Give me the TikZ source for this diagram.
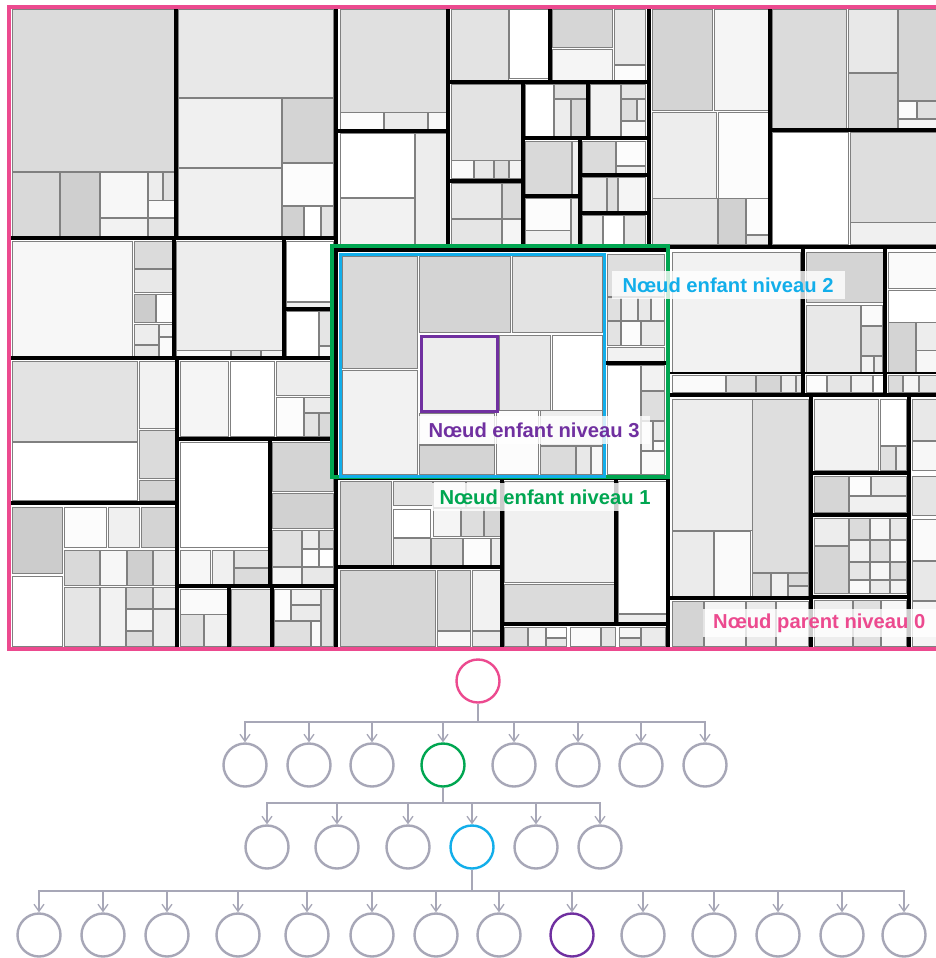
\documentclass[tikz,border=0pt]{standalone}
\usepackage{fontspec}
\newfontfamily\lblfont{Liberation Sans}
\usetikzlibrary{arrows.meta}
\definecolor{pinkc}{HTML}{EC4A8F}
\definecolor{greenc}{HTML}{00A651}
\definecolor{bluec}{HTML}{12AEEA}
\definecolor{purpc}{HTML}{7030A0}
\definecolor{treeg}{HTML}{A7A7B7}
\tikzset{
  tmcell/.style={draw=black!50,line width=1pt},
  thkline/.style={draw=black,line width=3.3pt},
  lblbox/.style={fill=white,fill opacity=0.8,text opacity=1,inner xsep=8pt,minimum height=28pt,font=\lblfont\bfseries\fontsize{20.2}{22}\selectfont},
  tnode/.style={circle,draw=treeg,line width=2.4pt,minimum size=43pt,inner sep=0pt},
  tconn/.style={draw=treeg,line width=1.5pt,-{Straight Barb[length=7pt,width=10pt,line width=1.3pt]}},
  tstem/.style={draw=treeg,line width=1.5pt}
}
\newcommand{\tmc}[5]{\filldraw[tmcell,fill=black!#5] (#1,#2) rectangle (#3,#4);}
\newcommand{\thk}[4]{\draw[thkline] (#1,#2) -- (#3,#4);}
\begin{document}
\begin{tikzpicture}[x=1pt,y=-1pt]
\useasboundingbox (0,0) rectangle (936,958);
\fill[white] (0,0) rectangle (936,958);
% ---------- treemap cells ----------
% region A
\tmc{12}{10}{175}{171}{14}
\tmc{12}{172}{59}{236}{15}
\tmc{60}{172}{99}{236}{19}
\tmc{100}{172}{147}{217}{3}
\tmc{100}{218}{147}{236}{5}
\tmc{148}{172}{162}{200}{7}
\tmc{163}{172}{174}{200}{12}
\tmc{148}{200}{174}{217}{2}
\tmc{148}{218}{174}{236}{10}
\tmc{178}{10}{333}{97}{9}
\tmc{178}{98}{281}{167}{6}
\tmc{282}{98}{333}{162}{17}
\tmc{178}{168}{281}{236}{6}
\tmc{282}{163}{333}{205}{1}
\tmc{282}{206}{303}{236}{18}
\tmc{304}{206}{320}{236}{0}
\tmc{321}{206}{333}{236}{11}
% region B
\tmc{12}{241}{132}{356}{3}
\tmc{134}{241}{172}{268}{14}
\tmc{134}{269}{172}{292}{9}
\tmc{134}{294}{155}{322}{20}
\tmc{156}{294}{172}{322}{1}
\tmc{134}{324}{158}{344}{7}
\tmc{159}{324}{172}{336}{4}
\tmc{134}{345}{158}{356}{9}
\tmc{159}{337}{172}{356}{2}
\tmc{176}{241}{283}{350}{7}
\tmc{176}{350}{230}{356}{3}
\tmc{231}{350}{260}{356}{10}
\tmc{261}{350}{283}{356}{5}
\tmc{286}{241}{333}{301}{0}
\tmc{286}{302}{333}{308}{6}
\tmc{286}{311}{318}{356}{0}
\tmc{319}{311}{333}{345}{10}
\tmc{319}{346}{333}{356}{4}
% region C
\tmc{12}{361}{137}{441}{11}
\tmc{12}{442}{137}{500}{0}
\tmc{139}{361}{175}{428}{5}
\tmc{139}{430}{175}{478}{14}
\tmc{139}{480}{175}{500}{17}
% region D
\tmc{180}{361}{228}{436}{4}
\tmc{230}{361}{274}{436}{0}
\tmc{276}{361}{333}{395}{7}
\tmc{276}{397}{303}{436}{1}
\tmc{304}{397}{333}{412}{8}
\tmc{304}{413}{318}{436}{11}
\tmc{319}{413}{333}{436}{15}
\tmc{180}{442}{268}{547}{0}
\tmc{272}{442}{333}{491}{17}
\tmc{272}{493}{333}{528}{18}
\tmc{272}{530}{301}{566}{12}
\tmc{302}{530}{318}{548}{7}
\tmc{319}{530}{333}{548}{14}
\tmc{302}{549}{318}{566}{1}
\tmc{319}{549}{333}{566}{0}
\tmc{272}{567}{301}{585}{4}
\tmc{302}{567}{333}{585}{9}
\tmc{180}{550}{210}{585}{3}
\tmc{212}{550}{233}{585}{6}
\tmc{234}{550}{268}{567}{11}
\tmc{234}{568}{268}{585}{14}
% region E
\tmc{12}{507}{62}{573}{20}
\tmc{12}{576}{62}{646}{0}
\tmc{64}{507}{106}{547}{1}
\tmc{108}{507}{139}{547}{6}
\tmc{141}{507}{175}{547}{17}
\tmc{64}{550}{99}{585}{15}
\tmc{100}{550}{126}{585}{3}
\tmc{127}{550}{152}{585}{19}
\tmc{153}{550}{175}{585}{9}
\tmc{64}{587}{99}{646}{10}
\tmc{100}{587}{125}{646}{5}
\tmc{126}{587}{152}{608}{15}
\tmc{153}{587}{175}{608}{8}
\tmc{126}{609}{152}{630}{3}
\tmc{153}{609}{175}{646}{7}
\tmc{126}{631}{152}{646}{14}
% region F
\tmc{180}{589}{228}{646}{2}
\tmc{180}{614}{203}{646}{12}
\tmc{204}{614}{228}{646}{6}
\tmc{231}{589}{270}{646}{10}
\tmc{274}{589}{290}{620}{1}
\tmc{291}{589}{320}{604}{5}
\tmc{291}{605}{320}{620}{8}
\tmc{321}{589}{333}{646}{12}
\tmc{274}{621}{310}{646}{12}
\tmc{311}{621}{320}{646}{2}
% region G
\tmc{340}{10}{447}{112}{12}
\tmc{340}{112}{383}{130}{1}
\tmc{384}{112}{427}{130}{8}
\tmc{428}{112}{447}{130}{3}
\tmc{340}{133}{414}{197}{0}
\tmc{415}{133}{447}{245}{7}
\tmc{340}{198}{414}{245}{5}
% region H
\tmc{451}{10}{508}{80}{11}
\tmc{509}{10}{549}{78}{0}
\tmc{552}{10}{612}{48}{16}
\tmc{552}{50}{612}{80}{4}
\tmc{614}{10}{645}{65}{9}
\tmc{614}{66}{645}{80}{1}
\tmc{451}{84}{521}{160}{11}
\tmc{451}{160}{473}{178}{2}
\tmc{474}{160}{493}{178}{9}
\tmc{494}{160}{508}{178}{13}
\tmc{509}{160}{521}{178}{5}
\tmc{451}{183}{501}{218}{9}
\tmc{502}{183}{521}{218}{14}
\tmc{451}{219}{501}{245}{10}
\tmc{502}{219}{521}{245}{4}
\tmc{525}{84}{553}{137}{0}
\tmc{554}{84}{587}{98}{13}
\tmc{554}{99}{570}{137}{7}
\tmc{571}{99}{587}{137}{15}
\tmc{590}{84}{620}{137}{5}
\tmc{621}{84}{645}{98}{10}
\tmc{621}{99}{636}{120}{13}
\tmc{637}{99}{645}{120}{6}
\tmc{621}{121}{645}{137}{3}
\tmc{525}{141}{571}{194}{15}
\tmc{572}{141}{579}{194}{6}
\tmc{525}{198}{570}{230}{1}
\tmc{525}{230}{570}{245}{6}
\tmc{571}{198}{579}{245}{8}
\tmc{582}{141}{615}{173}{14}
\tmc{616}{141}{645}{165}{1}
\tmc{616}{166}{645}{173}{6}
\tmc{582}{177}{606}{211}{9}
\tmc{607}{177}{617}{211}{13}
\tmc{618}{177}{645}{211}{4}
\tmc{582}{215}{602}{245}{8}
\tmc{603}{215}{623}{245}{0}
\tmc{624}{215}{645}{245}{10}
% region I
\tmc{652}{10}{712}{110}{17}
\tmc{714}{10}{768}{110}{4}
\tmc{652}{112}{716}{198}{7}
\tmc{652}{198}{717}{244}{11}
\tmc{718}{112}{768}{198}{1}
\tmc{718}{198}{745}{244}{18}
\tmc{746}{198}{768}{234}{1}
\tmc{746}{235}{768}{244}{8}
\tmc{772}{10}{846}{128}{14}
\tmc{848}{10}{897}{73}{9}
\tmc{848}{73}{897}{128}{15}
\tmc{898}{10}{936}{100}{16}
\tmc{898}{101}{916}{118}{1}
\tmc{917}{101}{936}{118}{12}
\tmc{898}{119}{936}{128}{4}
\tmc{772}{132}{848}{244}{0}
\tmc{850}{132}{936}{222}{13}
\tmc{850}{222}{936}{244}{6}
% region J (inside green)
\tmc{342}{256}{417}{368}{15}
\tmc{419}{256}{510}{332}{17}
\tmc{512}{256}{602}{332}{11}
\tmc{342}{370}{417}{474}{5}
\tmc{421}{336}{497}{411}{7}
\tmc{499}{335}{550}{410}{9}
\tmc{552}{335}{602}{410}{0}
\tmc{419}{413}{494}{444}{3}
\tmc{419}{445}{494}{474}{17}
\tmc{496}{410}{538}{474}{1}
\tmc{540}{410}{602}{445}{7}
\tmc{540}{446}{575}{474}{14}
\tmc{576}{446}{590}{474}{9}
\tmc{591}{446}{602}{474}{3}
\tmc{607}{254}{664}{296}{13}
\tmc{607}{297}{620}{320}{12}
\tmc{621}{297}{637}{320}{6}
\tmc{638}{297}{650}{320}{9}
\tmc{651}{297}{664}{320}{4}
\tmc{607}{321}{620}{345}{11}
\tmc{621}{321}{640}{345}{1}
\tmc{641}{321}{664}{345}{8}
\tmc{607}{347}{664}{361}{5}
\tmc{607}{365}{640}{474}{0}
\tmc{641}{365}{664}{390}{5}
\tmc{641}{391}{664}{420}{13}
\tmc{641}{421}{652}{450}{3}
\tmc{653}{421}{664}{440}{9}
\tmc{653}{441}{664}{450}{1}
\tmc{641}{451}{664}{474}{2}
% region K
\tmc{672}{252}{800}{372}{5}
\tmc{806}{252}{883}{302}{17}
\tmc{806}{305}{860}{372}{9}
\tmc{861}{305}{882}{325}{2}
\tmc{861}{326}{882}{355}{12}
\tmc{861}{356}{873}{372}{5}
\tmc{874}{356}{882}{372}{8}
\tmc{888}{252}{936}{288}{2}
\tmc{888}{290}{936}{322}{0}
\tmc{888}{322}{915}{372}{17}
\tmc{916}{322}{936}{350}{7}
\tmc{916}{350}{936}{372}{3}
\tmc{672}{375}{725}{392}{2}
\tmc{726}{375}{755}{392}{12}
\tmc{756}{375}{780}{392}{16}
\tmc{781}{375}{795}{392}{7}
\tmc{796}{375}{802}{392}{9}
\tmc{806}{375}{826}{392}{1}
\tmc{827}{375}{850}{392}{10}
\tmc{851}{375}{872}{392}{5}
\tmc{873}{375}{884}{392}{0}
\tmc{888}{375}{902}{392}{14}
\tmc{903}{375}{918}{392}{4}
\tmc{919}{375}{936}{392}{9}
\tmc{672}{399}{752}{530}{7}
\tmc{672}{531}{713}{596}{8}
\tmc{714}{531}{750}{596}{2}
\tmc{752}{399}{808}{572}{13}
\tmc{752}{573}{770}{596}{14}
\tmc{771}{573}{787}{596}{6}
\tmc{788}{573}{808}{585}{15}
\tmc{788}{586}{808}{596}{10}
\tmc{672}{601}{703}{646}{17}
\tmc{704}{601}{745}{646}{4}
\tmc{746}{601}{775}{646}{8}
\tmc{776}{601}{808}{646}{3}
\tmc{814}{399}{878}{470}{5}
\tmc{880}{399}{906}{445}{0}
\tmc{880}{446}{895}{470}{12}
\tmc{896}{446}{906}{470}{7}
\tmc{912}{399}{936}{440}{9}
\tmc{912}{441}{936}{470}{3}
\tmc{912}{476}{936}{515}{10}
\tmc{912}{519}{936}{560}{2}
\tmc{912}{561}{936}{600}{9}
\tmc{912}{601}{936}{646}{4}
\tmc{814}{476}{848}{512}{16}
\tmc{849}{476}{870}{495}{1}
\tmc{871}{476}{906}{495}{8}
\tmc{849}{496}{906}{512}{6}
\tmc{814}{518}{848}{545}{7}
\tmc{814}{546}{848}{593}{16}
\tmc{849}{518}{869}{539}{14}
\tmc{870}{518}{889}{539}{4}
\tmc{890}{518}{906}{539}{9}
\tmc{849}{540}{869}{561}{5}
\tmc{870}{540}{889}{561}{12}
\tmc{890}{540}{906}{561}{2}
\tmc{849}{562}{869}{579}{10}
\tmc{870}{562}{889}{579}{3}
\tmc{890}{562}{906}{579}{13}
\tmc{849}{580}{869}{593}{2}
\tmc{870}{580}{889}{593}{8}
\tmc{890}{580}{906}{593}{5}
\tmc{814}{600}{852}{646}{7}
\tmc{853}{600}{880}{646}{12}
\tmc{881}{600}{906}{646}{3}
% region L
\tmc{340}{481}{391}{565}{16}
\tmc{393}{481}{432}{505}{11}
\tmc{393}{509}{430}{537}{0}
\tmc{433}{481}{465}{507}{5}
\tmc{466}{481}{500}{507}{8}
\tmc{433}{508}{460}{536}{4}
\tmc{461}{508}{483}{536}{13}
\tmc{484}{508}{500}{536}{16}
\tmc{393}{538}{430}{565}{8}
\tmc{431}{538}{462}{565}{13}
\tmc{463}{538}{490}{565}{1}
\tmc{491}{538}{500}{565}{7}
\tmc{340}{570}{435}{646}{16}
\tmc{437}{570}{470}{630}{15}
\tmc{472}{570}{500}{630}{5}
\tmc{437}{631}{470}{646}{3}
\tmc{472}{631}{500}{646}{8}
\tmc{504}{481}{614}{582}{6}
\tmc{504}{584}{614}{622}{14}
\tmc{504}{627}{527}{646}{12}
\tmc{528}{627}{545}{646}{5}
\tmc{546}{627}{566}{637}{1}
\tmc{546}{638}{566}{646}{9}
\tmc{570}{627}{600}{646}{2}
\tmc{601}{627}{615}{646}{10}
\tmc{619}{627}{640}{637}{3}
\tmc{619}{638}{640}{646}{11}
\tmc{641}{627}{665}{646}{8}
\tmc{618}{481}{666}{613}{0}
\tmc{618}{614}{666}{622}{7}
% ---------- thick dividers ----------
\thk{176}{8}{176}{238}
\thk{9}{238}{336}{238}
\thk{336}{8}{336}{650}
\thk{174}{238}{174}{358}
\thk{284}{238}{284}{358}
\thk{284}{309}{336}{309}
\thk{9}{358}{336}{358}
\thk{177}{358}{177}{650}
\thk{177}{439}{336}{439}
\thk{9}{503}{177}{503}
\thk{270}{439}{270}{586}
\thk{177}{586}{336}{586}
\thk{229}{586}{229}{650}
\thk{272}{586}{272}{650}
\thk{336}{131}{448}{131}
\thk{448}{8}{448}{247}
\thk{550}{8}{550}{82}
\thk{448}{82}{649}{82}
\thk{523}{82}{523}{247}
\thk{448}{181}{523}{181}
\thk{588}{82}{588}{138}
\thk{523}{138}{649}{138}
\thk{580}{138}{580}{247}
\thk{523}{196}{580}{196}
\thk{580}{175}{649}{175}
\thk{580}{213}{649}{213}
\thk{649}{8}{649}{247}
\thk{770}{8}{770}{247}
\thk{770}{130}{936}{130}
\thk{336}{247}{936}{247}
\thk{336}{250}{668}{250}
\thk{668}{247}{668}{650}
\thk{604}{363}{668}{363}
\thk{803}{247}{803}{395}
\thk{885}{247}{885}{395}
\draw[black,line width=1.8pt] (668,373) -- (936,373);
\thk{668}{395}{936}{395}
\thk{811}{395}{811}{650}
\thk{909}{395}{909}{650}
\thk{811}{473}{909}{473}
\thk{811}{515}{909}{515}
\thk{811}{597}{909}{597}
\thk{668}{598}{811}{598}
\thk{336}{478}{668}{478}
\thk{502}{478}{502}{650}
\thk{336}{567}{502}{567}
\thk{616}{478}{616}{624}
\thk{502}{624}{668}{624}
% ---------- highlighted nodes ----------
\draw[greenc,line width=3.2pt] (332,246) rectangle (668,477);
\draw[bluec,line width=3pt] (340,254) rectangle (604,476);
\draw[purpc,line width=3pt] (421,336) rectangle (497,411);
% pink parent border (right side out of frame)
\draw[pinkc,line width=3.2pt] (940,7) -- (9,7) -- (9,649) -- (940,649);
% ---------- labels ----------
\node[lblbox,text=bluec,minimum width=233pt] (lab2) at (728,285) {Nœud enfant niveau 2};
\node[lblbox,text=purpc,minimum width=231pt] (lab3) at (534,430) {Nœud enfant niveau 3};
\node[lblbox,text=greenc,minimum width=220pt] (lab1) at (545,497) {Nœud enfant niveau 1};
\node[lblbox,text=pinkc,minimum width=233pt,anchor=east] (lab0) at (936,623) {Nœud parent niveau 0};
% ---------- tree ----------
\node[tnode,draw=pinkc] (r) at (478,681) {};
\foreach \i/\x in {1/245,2/309,3/372,5/514,6/578,7/641,8/705}
  \node[tnode] (a\i) at (\x,765) {};
\node[tnode,draw=greenc] (a4) at (443,765) {};
\foreach \i/\x in {1/267,2/337,3/408,5/536,6/600}
  \node[tnode] (b\i) at (\x,847) {};
\node[tnode,draw=bluec] (b4) at (472,847) {};
\foreach \i/\x in {1/39,2/103,3/167,4/238,5/307,6/372,7/436,8/499,10/643,11/714,12/778,13/842,14/904}
  \node[tnode] (c\i) at (\x,935) {};
\node[tnode,draw=purpc] (c9) at (572,935) {};
\coordinate (barA) at (478,722);
\coordinate (barB) at (443,803);
\coordinate (barC) at (472,891);
\draw[tstem] (r.south) -- (barA);
\draw[tstem] (a4.south) -- (barB);
\draw[tstem] (b4.south) -- (barC);
\foreach \i in {1,...,8} \draw[tconn] (barA) -| (a\i.north);
\foreach \i in {1,...,6} \draw[tconn] (barB) -| (b\i.north);
\foreach \i in {1,...,14} \draw[tconn] (barC) -| (c\i.north);
\end{tikzpicture}
\end{document}
